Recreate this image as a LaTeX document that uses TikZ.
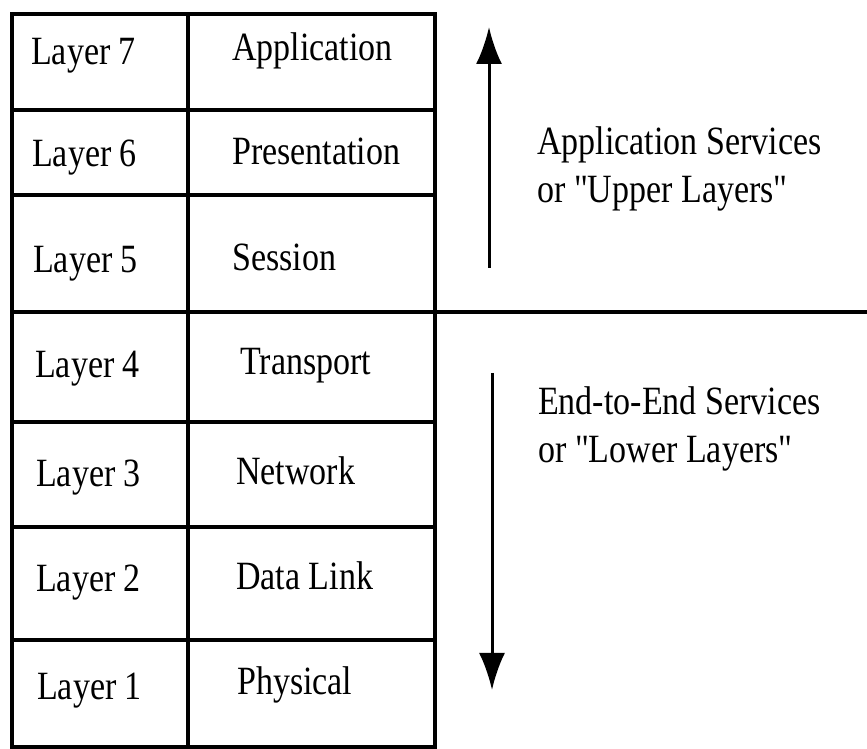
\documentclass[tikz,border=0pt]{standalone}
\usepackage{fontspec}
\setmainfont{Liberation Serif}
\usetikzlibrary{arrows.meta}
\tikzset{
  lbl/.style={inner sep=0pt, anchor=base west, font=\fontsize{34}{40}\selectfont, yscale=1.18, transform shape},
  tablerule/.style={line width=4pt, line cap=rect},
  svcarrow/.style={line width=3pt, -{Latex[length=37pt,width=26pt]}},
}
\begin{document}
\begin{tikzpicture}[x=1pt,y=1pt]
    \useasboundingbox (0,0) rectangle (867,749);
    % table frame and rules
    \draw[tablerule] (12,2) rectangle (435,735);
    \draw[tablerule] (188,2) -- (188,735);
    \foreach \y in {639,554,327,222,109}
        \draw[tablerule] (12,\y) -- (435,\y);
    \draw[tablerule] (12,437) -- (867,437);
    % layer numbers
    \node [lbl] (lay7) at (31,684) {Layer 7};
    \node [lbl] (lay6) at (32,582) {Layer 6};
    \node [lbl] (lay5) at (33,476) {Layer 5};
    \node [lbl] (lay4) at (35,371) {Layer 4};
    \node [lbl] (lay3) at (36,262) {Layer 3};
    \node [lbl] (lay2) at (36,157) {Layer 2};
    \node [lbl] (lay1) at (37,49)  {Layer 1};
    % layer names
    \node [lbl] (app)  at (232,688) {Application};
    \node [lbl] (pres) at (232,584) {Presentation};
    \node [lbl] (sess) at (232,478) {Session};
    \node [lbl] (trans) at (240,374) {Transport};
    \node [lbl] (net)  at (236,264) {Network};
    \node [lbl] (dlink) at (236,159) {Data Link};
    \node [lbl] (phys) at (237,54)  {Physical};
    % service groups
    \node [lbl] (upper1) at (537,594) {Application Services};
    \node [lbl] (upper2) at (537,546) {or \textquotedbl Upper Layers\textquotedbl};
    \node [lbl] (lower1) at (538,334) {End-to-End Services};
    \node [lbl] (lower2) at (538,286) {or \textquotedbl Lower Layers\textquotedbl};
    \coordinate (up-s) at (489,481);
    \coordinate (up-e) at (489,722);
    \coordinate (down-s) at (492,376);
    \coordinate (down-e) at (492,59);
    \draw[svcarrow] (up-s) -- (up-e);
    \draw[svcarrow] (down-s) -- (down-e);
\end{tikzpicture}
\end{document}
